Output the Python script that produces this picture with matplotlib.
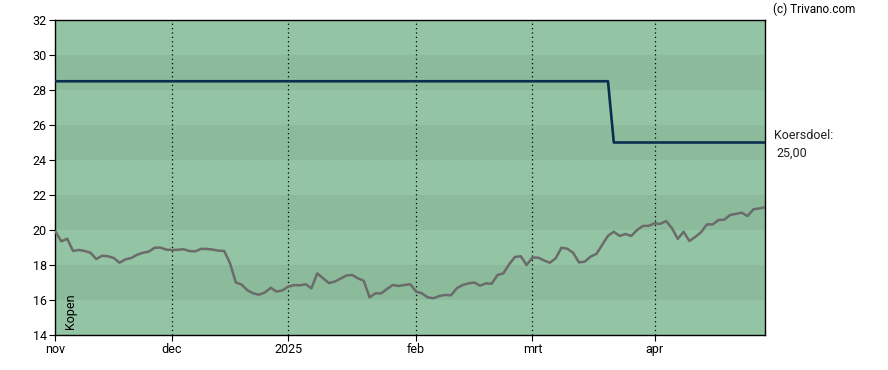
import matplotlib
matplotlib.use("Agg")
import matplotlib.pyplot as plt
import pandas as pd

plt.rcParams['font.family'] = ['Roboto', 'DejaVu Sans']

# handelsdagen nov 2024 - apr 2025 (zonder beursvakanties)
feestdagen = ['2024-12-25', '2024-12-26', '2025-01-01', '2025-04-18', '2025-04-21']
datums = pd.bdate_range('2024-11-01', '2025-04-30')
datums = datums[~datums.isin(pd.to_datetime(feestdagen))]

koers = [20.0, 19.9, 19.35, 19.5, 18.8, 18.86, 18.8, 18.7, 18.34, 18.53,
         18.5, 18.4, 18.13, 18.32, 18.4, 18.58, 18.7, 18.76, 18.98, 19.0,
         18.88, 18.86, 18.87, 18.9, 18.8, 18.78, 18.92, 18.92, 18.88, 18.82,
         18.8, 18.1, 17.0, 16.88, 16.55, 16.38, 16.3, 16.43, 16.7, 16.48,
         16.55, 16.76, 16.85, 16.84, 16.9, 16.67, 17.52, 17.24, 16.97, 17.05,
         17.22, 17.4, 17.43, 17.24, 17.1, 16.15, 16.38, 16.38, 16.63, 16.86,
         16.8, 16.86, 16.9, 16.48, 16.38, 16.15, 16.1, 16.23, 16.29, 16.27,
         16.67, 16.86, 16.95, 17.0, 16.82, 16.95, 16.93, 17.43, 17.52, 18.04,
         18.46, 18.5, 18.0, 18.42, 18.42, 18.26, 18.13, 18.38, 18.99, 18.93,
         18.7, 18.15, 18.19, 18.48, 18.63, 19.15, 19.67, 19.9, 19.66, 19.77,
         19.66, 20.0, 20.23, 20.24, 20.38, 20.35, 20.51, 20.1, 19.49, 19.9,
         19.37, 19.6, 19.87, 20.32, 20.32, 20.57, 20.59, 20.86, 20.92, 20.99,
         20.8, 21.18, 21.23, 21.3]

# koersdoel: 28,50 tot 20 maart, daarna 25,00
koersdoel = [28.5] * 97 + [25.0] * 27

maanden = ['nov', 'dec', '2025', 'feb', 'mrt', 'apr']

x = list(range(len(koers)))

fig = plt.figure(figsize=(8.88, 3.70), dpi=100)
ax = fig.add_axes([55/888, 35/370, 710/888, 315/370])

# achtergrond met banden
ax.set_facecolor('#93c4a3')
for y0 in range(14, 32, 2):
    if (y0 // 2) % 2 == 0:
        ax.axhspan(y0, y0 + 2, color='#8bbb9b', lw=0, zorder=0)

# maandticks: eerste handelsdag van elke maand
per = pd.Series(datums.to_period('M'))
posities = [int(per[per == p].index[0]) for p in per.unique()]
posities[0] = 0.9

for p in posities[1:]:
    ax.axvline(p, color='black', lw=0.9, ls=(0, (1, 2.5)), zorder=1)

ax.plot(x, koers, color='#6b6b6b', lw=1.8, zorder=3)
ax.plot(x, koersdoel, color='#0b2e4f', lw=1.9, zorder=4)

ax.set_xlim(0.9, 123)
ax.set_ylim(14, 32)
ax.set_yticks(range(14, 33, 2))
ax.set_xticks(posities)
ax.set_xticklabels(maanden)
ax.tick_params(labelsize=9, length=4, width=0.8, color='black', pad=2)
for s in ax.spines.values():
    s.set_linewidth(1.0)

ax.text(0.012, 0.02, 'Kopen', rotation=90, transform=ax.transAxes,
        fontsize=9, ha='left', va='bottom')

fig.text(773/888, 1 - 9/370, '(c) Trivano.com', fontsize=8.5, ha='left', va='center')
fig.text(774/888, 1 - 135/370, 'Koersdoel:', fontsize=9, ha='left', va='center', color='#222222')
fig.text(776/888, 1 - 153/370, '25,00', fontsize=9, ha='left', va='center', color='#222222')

plt.savefig('out.png', dpi=100)
plt.close()
